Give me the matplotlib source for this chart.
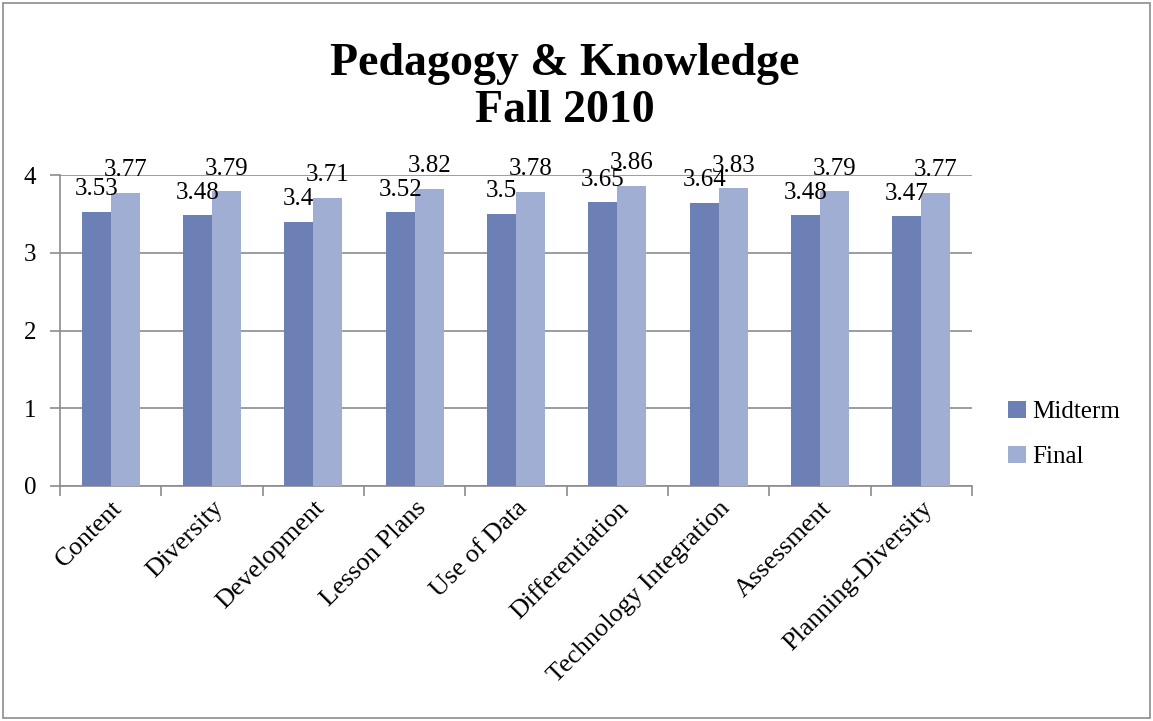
import matplotlib
matplotlib.use('Agg')
import matplotlib.pyplot as plt
import numpy as np
from matplotlib.patches import Rectangle

categories = ['Content', 'Diversity', 'Development', 'Lesson Plans', 'Use of Data',
              'Differentiation', 'Technology Integration', 'Assessment', 'Planning-Diversity']
midterm = [3.53, 3.48, 3.4, 3.52, 3.5, 3.65, 3.64, 3.48, 3.47]
final = [3.77, 3.79, 3.71, 3.82, 3.78, 3.86, 3.83, 3.79, 3.77]
y_ticks = [0, 1, 2, 3, 4]

plt.rcParams['font.family'] = ['Liberation Serif', 'DejaVu Serif']

fig = plt.figure(figsize=(11.53, 7.21), dpi=100)
ax = fig.add_axes([60 / 1153, 1 - 486 / 721, 912 / 1153, 311 / 721])

# outer frame of the chart
fig.patches.append(Rectangle((0.003, 0.004), 0.994, 0.992, transform=fig.transFigure,
                             fill=False, edgecolor='#8c8c8c', linewidth=1.2))

x = np.arange(len(categories))
w = 0.286
c_mid = '#6c80b6'
c_fin = '#a0aed4'
b1 = ax.bar(x - w / 2, midterm, w, color=c_mid, label='Midterm', zorder=3)
b2 = ax.bar(x + w / 2, final, w, color=c_fin, label='Final', zorder=3)

for bars, vals in ((b1, midterm), (b2, final)):
    for r, v in zip(bars, vals):
        ax.annotate(f'{v:g}', (r.get_x() + r.get_width() / 2, v), xytext=(0, 12),
                    textcoords='offset points', ha='center', va='baseline',
                    fontsize=18, zorder=5)

ax.set_xlim(-0.5, len(categories) - 0.5)
ax.set_ylim(0, 4)
ax.set_yticks(y_ticks)
ax.set_yticklabels([str(t) for t in y_ticks], fontsize=18)
ax.yaxis.grid(True, color='#8c8c8c', linewidth=1.2, zorder=0)
ax.set_axisbelow(True)

ax.set_xticks(np.arange(len(categories) + 1) - 0.5)
ax.set_xticklabels([])
ax.set_xticks(x, minor=True)
ax.set_xticklabels(categories, minor=True, rotation=45, ha='right', rotation_mode='anchor',
                   fontsize=19)
ax.tick_params(axis='x', which='major', length=7, color='#8c8c8c', width=1.2, direction='out')
ax.tick_params(axis='x', which='minor', length=0, pad=8)
ax.tick_params(axis='y', length=7, color='#8c8c8c', width=1.2, pad=10)

for s in ['top', 'right']:
    ax.spines[s].set_visible(False)
for s in ['left', 'bottom']:
    ax.spines[s].set_color('#8c8c8c')
    ax.spines[s].set_linewidth(1.2)

fig.text(0.49, 0.94, 'Pedagogy & Knowledge\nFall 2010', ha='center', va='top',
         fontsize=33, fontweight='bold', linespacing=1.15)

ax.legend(loc='center left', bbox_to_anchor=(1.015, 0.165), frameon=False, fontsize=18,
          handlelength=0.7, handleheight=0.7, handletextpad=0.25, labelspacing=0.9)

fig.savefig('out.png', dpi=100)
